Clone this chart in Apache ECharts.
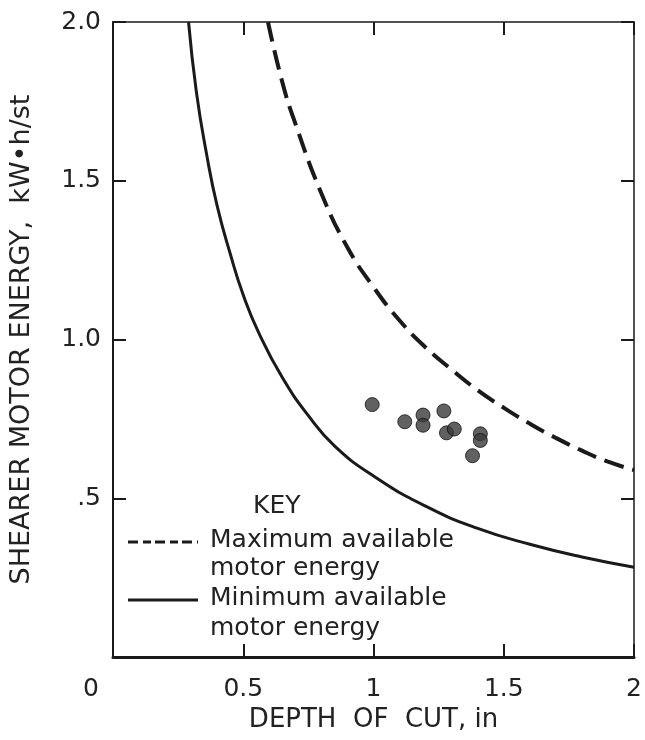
<!DOCTYPE html>
<html>
<head>
<meta charset="utf-8">
<script src="https://cdn.jsdelivr.net/npm/echarts@6/dist/echarts.min.js"></script>
<style>
  html, body { margin: 0; background: #fff; }
  #chart { width: 645px; height: 740px; }
</style>
</head>
<body>
<div id="chart"></div>
<script>
// ticks
let xTicks = [0, 0.5, 1, 1.5, 2]
let xTickLabels = ['0', '0.5', '1', '1.5', '2']
let yTicks = [0, 0.5, 1, 1.5, 2]
let yTickLabels = ['', '.5', '1.0', '1.5', '2.0']

// minimum available motor energy (solid)
let minX = [0.29, 0.32, 0.36, 0.40, 0.45, 0.50, 0.56, 0.65, 0.75, 0.85, 1.0, 1.2, 1.4, 1.6, 1.8, 2.0]
let minY = [2.0, 1.78, 1.58, 1.42, 1.27, 1.14, 1.02, 0.88, 0.76, 0.665, 0.57, 0.475, 0.405, 0.355, 0.315, 0.283]

// maximum available motor energy (dashed)
let maxX = [0.595, 0.65, 0.70, 0.80, 0.90, 1.0, 1.1, 1.2, 1.3, 1.4, 1.5, 1.6, 1.7, 1.8, 1.9, 2.0]
let maxY = [2.0, 1.81, 1.68, 1.46, 1.29, 1.165, 1.06, 0.975, 0.905, 0.84, 0.785, 0.735, 0.69, 0.65, 0.615, 0.589]

// measured points
let dotX = [0.995, 1.12, 1.19, 1.19, 1.27, 1.28, 1.31, 1.41, 1.41, 1.38]
let dotY = [0.795, 0.741, 0.762, 0.730, 0.775, 0.706, 0.718, 0.703, 0.682, 0.634]

let zip = (xs, ys) => xs.map((x, i) => [x, ys[i]])

let font = 'DejaVu Sans'
let ink = '#1a1a1a'
let tickLen = 13

let myChart = echarts.init(document.getElementById('chart'))

function frameAxis(pos, width, extra) {
  return Object.assign({
    type: 'value', min: 0, max: 2, interval: 0.5,
    position: pos,
    splitLine: { show: false },
    axisLine: { show: true, onZero: false, lineStyle: { color: ink, width: width } },
    axisTick: { show: false },
    axisLabel: { show: false }
  }, extra)
}

// tick-only axis pushed into the plot, ticks drawn outward back to the frame
function tickAxis(pos) {
  return {
    type: 'value', min: 0, max: 2, interval: 0.5,
    position: pos,
    offset: -tickLen,
    splitLine: { show: false },
    axisLine: { show: false, onZero: false },
    axisTick: { show: true, inside: false, length: tickLen, lineStyle: { color: ink, width: 2 } },
    axisLabel: { show: false }
  }
}

let xBottom = frameAxis('bottom', 3, {
  axisLabel: {
    show: true, margin: 20, color: '#222', fontFamily: font, fontSize: 25,
    formatter: function (v) {
      let s = xTickLabels[xTicks.indexOf(v)]
      return v === 0 ? '{o|' + s + '}' : s
    },
    rich: { o: { padding: [0, 44, 0, 0], fontFamily: font, fontSize: 25, color: '#222' } }
  },
  name: 'DEPTH  OF  CUT, in',
  nameLocation: 'middle',
  nameGap: 50,
  nameTextStyle: { color: '#222', fontFamily: font, fontSize: 26 }
})

let yLeft = frameAxis('left', 2, {
  axisLabel: {
    show: true, margin: 12, color: '#222', fontFamily: font, fontSize: 25,
    formatter: function (v) { return yTickLabels[yTicks.indexOf(v)] }
  },
  name: 'SHEARER MOTOR ENERGY,  kW\u2022h/st',
  nameLocation: 'middle',
  nameGap: 78,
  nameTextStyle: { color: '#222', fontFamily: font, fontSize: 27 }
})

let yRight = frameAxis('right', 1.5, {
  axisTick: { show: true, inside: true, length: tickLen, lineStyle: { color: ink, width: 2 } }
})

myChart.setOption({
  animation: false,
  backgroundColor: '#fff',
  grid: { left: 110, right: 5, top: 22, bottom: 83 },
  xAxis: [xBottom, frameAxis('top', 1.5), tickAxis('bottom'), tickAxis('top')],
  yAxis: [yLeft, yRight, tickAxis('left')],
  series: [
    {
      name: 'Minimum available motor energy',
      type: 'line',
      smooth: true,
      showSymbol: false,
      clip: true,
      data: zip(minX, minY),
      lineStyle: { color: ink, width: 3 }
    },
    {
      name: 'Maximum available motor energy',
      type: 'line',
      smooth: true,
      showSymbol: false,
      clip: true,
      data: zip(maxX, maxY),
      lineStyle: { color: ink, width: 4, type: [20, 9] }
    },
    {
      type: 'scatter',
      symbolSize: 14,
      data: zip(dotX, dotY),
      itemStyle: { color: '#3a3a3a', borderColor: '#111', borderWidth: 1 }
    }
  ],
  graphic: [
    { type: 'text', left: 253, top: 494, style: { text: 'KEY', font: '25px "DejaVu Sans"', fill: '#222' } },
    { type: 'line', shape: { x1: 128, y1: 542, x2: 198, y2: 542 }, style: { stroke: ink, lineWidth: 3, lineDash: [10, 5, 8, 4] } },
    { type: 'text', left: 210, top: 528, style: { text: 'Maximum available', font: '25px "DejaVu Sans"', fill: '#222' } },
    { type: 'text', left: 210, top: 556, style: { text: 'motor energy', font: '25px "DejaVu Sans"', fill: '#222' } },
    { type: 'line', shape: { x1: 128, y1: 600, x2: 198, y2: 600 }, style: { stroke: ink, lineWidth: 3 } },
    { type: 'text', left: 210, top: 586, style: { text: 'Minimum available', font: '25px "DejaVu Sans"', fill: '#222' } },
    { type: 'text', left: 210, top: 616, style: { text: 'motor energy', font: '25px "DejaVu Sans"', fill: '#222' } }
  ]
})
</script>
</body>
</html>
